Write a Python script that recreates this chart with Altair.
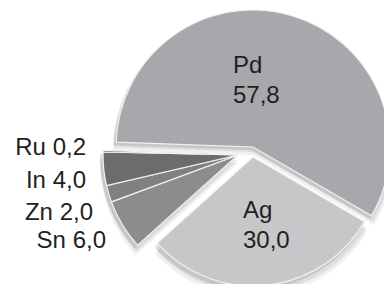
import altair as alt
import pandas as pd

metals = ["Pd", "Ag", "Sn", "Zn", "In", "Ru"]
values = [57.8, 30.0, 6.0, 2.0, 4.0, 0.2]
colors = ["#a7a8ab", "#c7c7ca", "#8c8c8e", "#808082", "#6c6c6e", "#4e4e50"]

df = pd.DataFrame({"metal": metals, "value": values, "order": list(range(len(metals)))})
df["num"] = [f"{v:.1f}".replace(".", ",") for v in values]

W, H = 376, 276
START = 272 * 3.14159265 / 180
theta_scale = alt.Scale(domain=[0, 100], range=[START, START + 2 * 3.14159265])

base = alt.Chart(df).transform_window(
    end="sum(value)", sort=[alt.SortField("order")], frame=[None, 0]
).transform_calculate(start="datum.end - datum.value")

color_scale = alt.Scale(domain=metals, range=colors)

# geometry of each exploded piece (centre x, centre y, radius)
geom = {
    "Pd": (245, 139, 137),
    "Ag": (245, 149, 129),
    "Sn": (230, 147, 135),
    "Zn": (230, 147, 135),
    "In": (230, 147, 135),
    "Ru": (230, 147, 135),
}

layers = []
# soft shadows
for dx, dy, dr, op in [(0, 8, 3, 0.06), (0, 5, 2, 0.08), (-2, 3, 1, 0.10)]:
    for m in metals:
        cx, cy, r = geom[m]
        layers.append(
            base.transform_filter(alt.datum.metal == m).mark_arc(color="#000000", opacity=op).encode(
                theta=alt.Theta("start:Q", scale=theta_scale),
                theta2="end:Q",
                x=alt.value(cx + dx), y=alt.value(cy + dy), radius=alt.value(r + dr),
            )
        )

for m in metals:
    cx, cy, r = geom[m]
    layers.append(
        base.transform_filter(alt.datum.metal == m).mark_arc(stroke="#f2f2f2", strokeWidth=1.2).encode(
            theta=alt.Theta("start:Q", scale=theta_scale),
            theta2="end:Q",
            x=alt.value(cx), y=alt.value(cy), radius=alt.value(r),
            color=alt.Color("metal:N", scale=color_scale, legend=None),
        )
    )

FONT = "Liberation Sans"
TXT = "#231f20"

# labels inside the big slices (two lines)
inside = {"Pd": (225, 58), "Ag": (235, 203)}
for m, (x, y) in inside.items():
    layers.append(
        base.transform_filter(alt.datum.metal == m)
        .transform_calculate(lab="datum.metal + '\\n' + datum.num")
        .mark_text(font=FONT, fontSize=24, color=TXT, align="left", baseline="middle", lineBreak="\n", lineHeight=30)
        .encode(text="lab:N", x=alt.value(x), y=alt.value(y))
    )

# labels to the left of the small slices
outside = {"Ru": (78, 140), "In": (78, 173), "Zn": (85, 205), "Sn": (98, 233)}
for m, (x, y) in outside.items():
    layers.append(
        base.transform_filter(alt.datum.metal == m)
        .transform_calculate(lab="datum.metal + ' ' + datum.num")
        .mark_text(font=FONT, fontSize=24, color=TXT, align="right", baseline="middle")
        .encode(text="lab:N", x=alt.value(x), y=alt.value(y))
    )

chart = alt.layer(*layers).properties(
    width=W, height=H, autosize=alt.AutoSizeParams(type="none"), padding=0
).configure_view(stroke=None)

chart.save("out.html", embed_options={"renderer": "svg", "actions": False})
